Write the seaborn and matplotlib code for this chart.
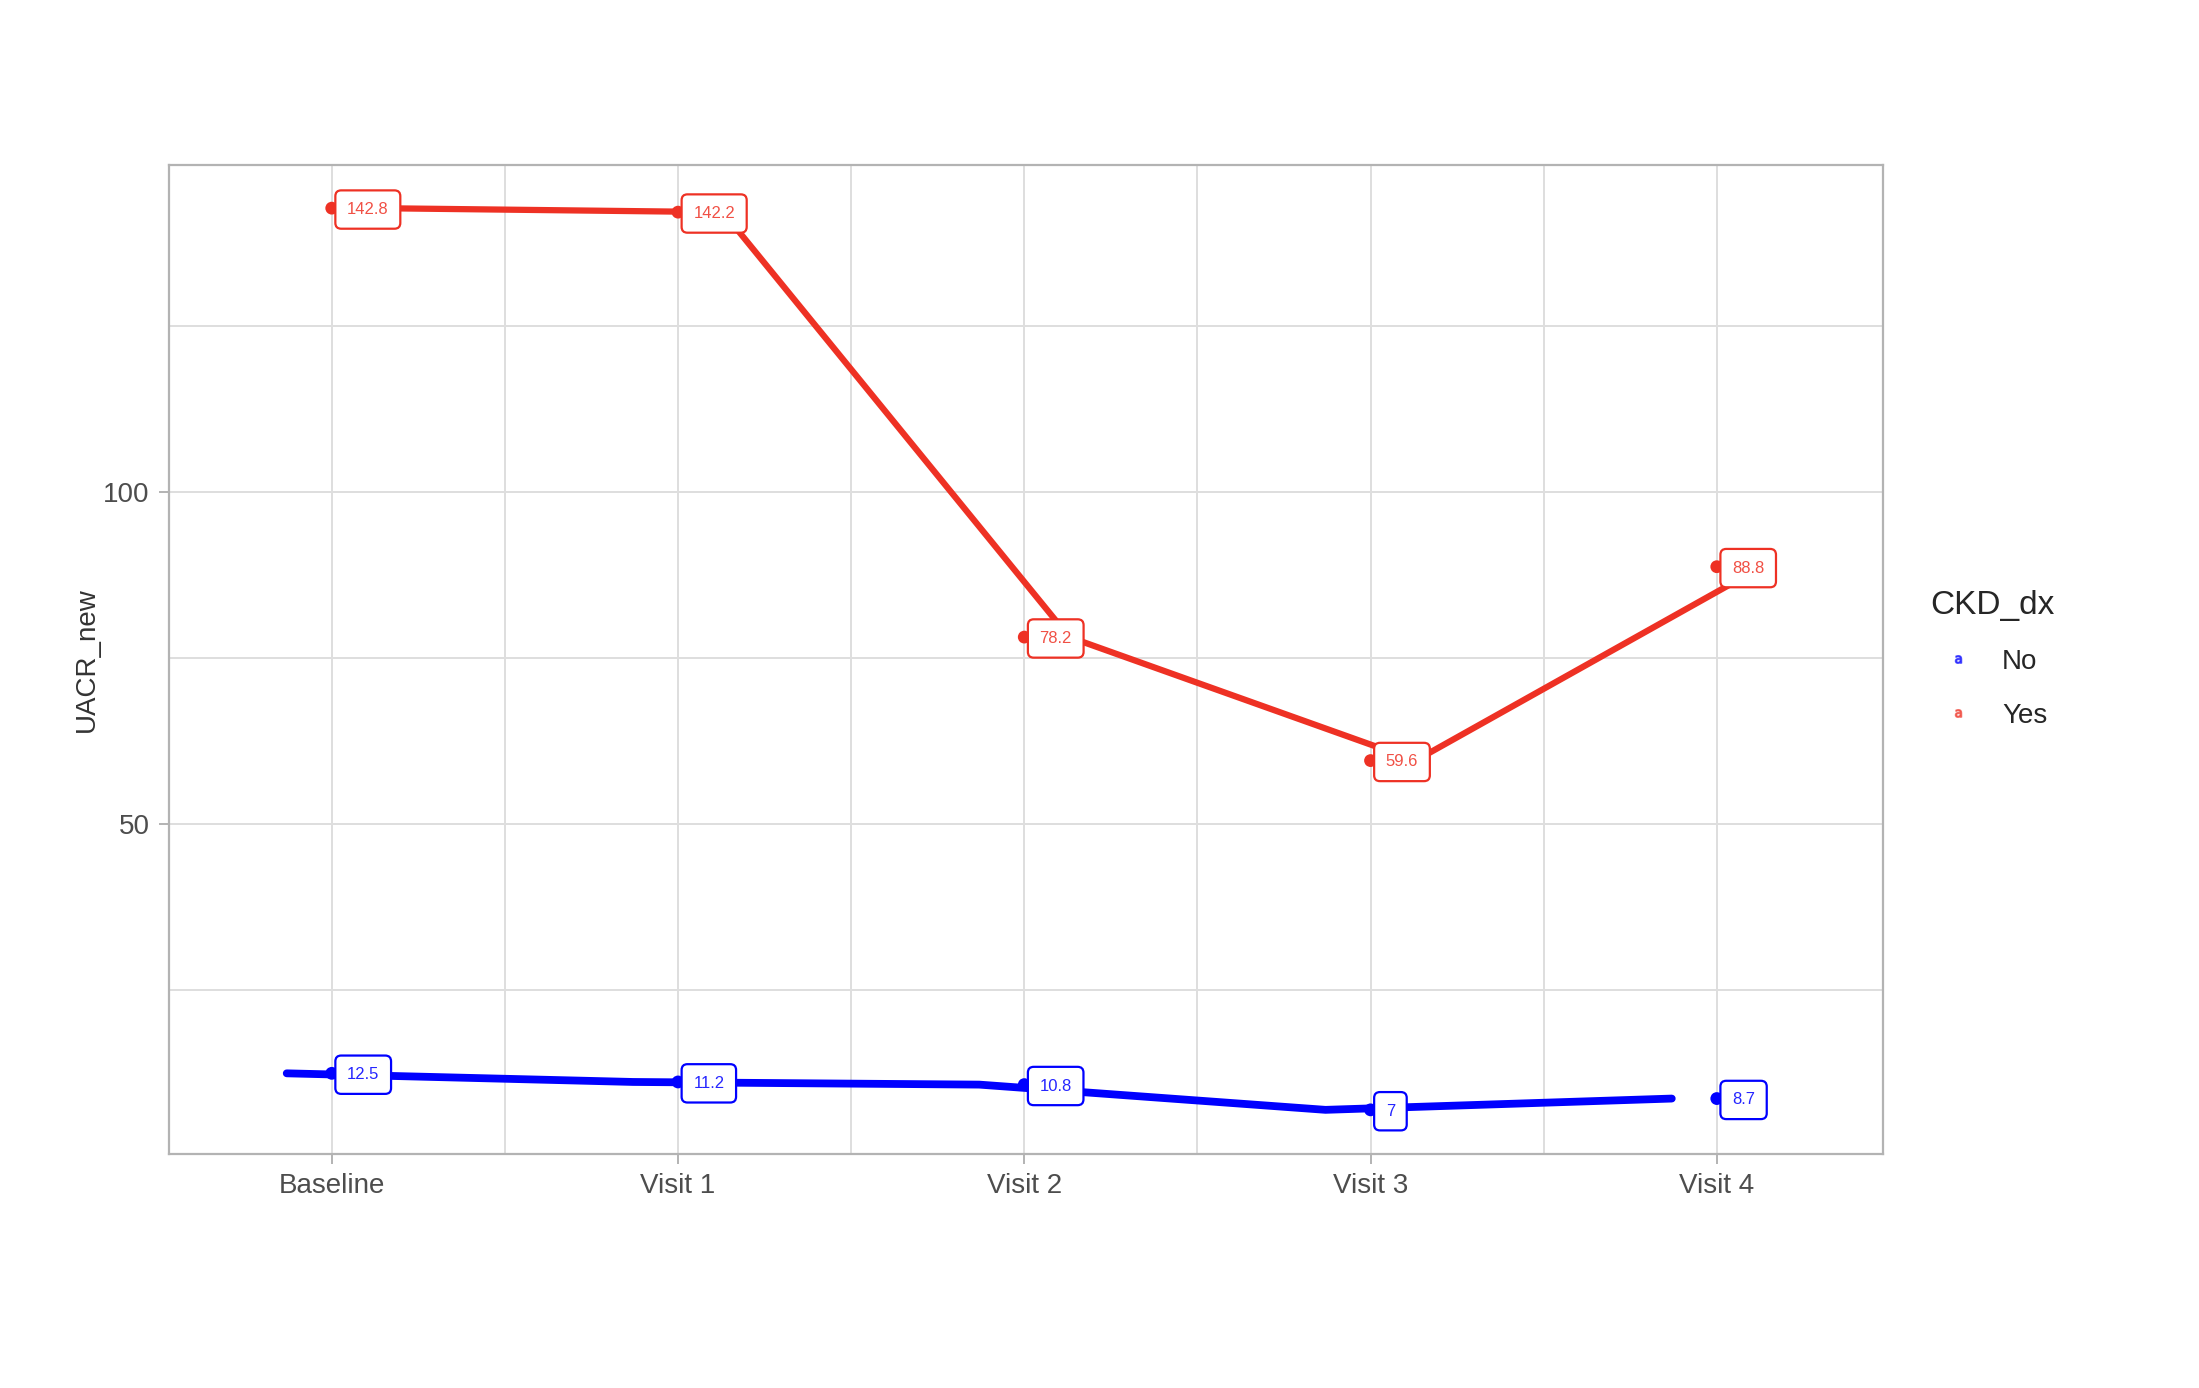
import matplotlib
matplotlib.use('Agg')
import matplotlib.pyplot as plt
from matplotlib.lines import Line2D
from matplotlib.ticker import FixedLocator
import numpy as np
import pandas as pd
import seaborn as sns

visits = ['Baseline', 'Visit 1', 'Visit 2', 'Visit 3', 'Visit 4']
groups = ['No', 'Yes']
uacr_no = [12.5, 11.2, 10.8, 7.0, 8.7]
uacr_yes = [142.8, 142.2, 78.2, 59.6, 88.8]
label_no = ['12.5', '11.2', '10.8', '7', '8.7']
label_yes = ['142.8', '142.2', '78.2', '59.6', '88.8']

colors = {'No': '#0000FF', 'Yes': '#EE3124'}
line_shift = {'No': -0.13, 'Yes': 0.13}   # lines are dodged a bit, points are not
line_width = {'No': 5.6, 'Yes': 4.5}

df = pd.DataFrame({
    'visit': visits * 2,
    'CKD_dx': ['No'] * 5 + ['Yes'] * 5,
    'UACR_new': uacr_no + uacr_yes,
    'label': label_no + label_yes,
})
df['pos'] = df['visit'].map({v: i for i, v in enumerate(visits)})
df['line_pos'] = df['pos'] + df['CKD_dx'].map(line_shift)

sns.set_style('white')
plt.rcParams['font.family'] = ['Liberation Sans', 'DejaVu Sans']

fig = plt.figure(figsize=(21.99, 13.88), dpi=100)
ax = fig.add_axes([169 / 2199, 1 - 1154 / 1388, (1883 - 169) / 2199, (1154 - 165) / 1388])

for g in groups:
    sub = df[df['CKD_dx'] == g]
    sns.lineplot(data=sub, x='line_pos', y='UACR_new', color=colors[g],
                 linewidth=line_width[g], ax=ax, legend=False, zorder=3)

sns.scatterplot(data=df, x='pos', y='UACR_new', hue='CKD_dx', palette=colors,
                s=85, edgecolor='none', legend=False, ax=ax, zorder=4)

# value labels in rounded boxes, to the right of each point
for _, row in df.iterrows():
    c = colors[row['CKD_dx']]
    ax.annotate(row['label'], (row['pos'], row['UACR_new']),
                xytext=(11, -1), textcoords='offset points',
                ha='left', va='center', fontsize=12, color=c, alpha=0.85,
                bbox=dict(boxstyle='round,pad=0.7,rounding_size=0.35',
                          fc='white', ec=c, lw=1.6),
                zorder=5)

ax.set_xlim(-0.47, 4.48)
ax.set_ylim(0.35, 149.3)
ax.set_xticks(range(len(visits)))
ax.set_xticklabels(visits)
ax.set_yticks([50, 100])
ax.xaxis.set_minor_locator(FixedLocator([0.5, 1.5, 2.5, 3.5]))
ax.yaxis.set_minor_locator(FixedLocator([25, 75, 125]))

ax.grid(which='both', color='#DEDEDE', linewidth=1.4)
ax.set_axisbelow(True)
for s in ax.spines.values():
    s.set_color('#B3B3B3')
    s.set_linewidth(1.6)

ax.tick_params(axis='both', which='major', labelsize=20, colors='#B3B3B3',
               labelcolor='#4D4D4D', length=7, width=1.4, direction='out',
               pad=7, bottom=True, left=True)
ax.tick_params(axis='both', which='minor', length=0)

ax.set_xlabel('')
ax.set_ylabel('UACR_new', fontsize=20, color='#333333', labelpad=2)

handles = [Line2D([], [], linestyle='none', marker=r'$\mathrm{a}$',
                  markersize=5.5, color=colors[g], alpha=0.6) for g in groups]
leg = fig.legend(handles, groups, title='CKD_dx', loc='upper left',
                 bbox_to_anchor=(1905 / 2199, 1 - 565 / 1388), frameon=False,
                 fontsize=20, title_fontsize=24, handletextpad=0.6,
                 labelspacing=1.0, alignment='left')

fig.savefig('out.png', dpi=100)
